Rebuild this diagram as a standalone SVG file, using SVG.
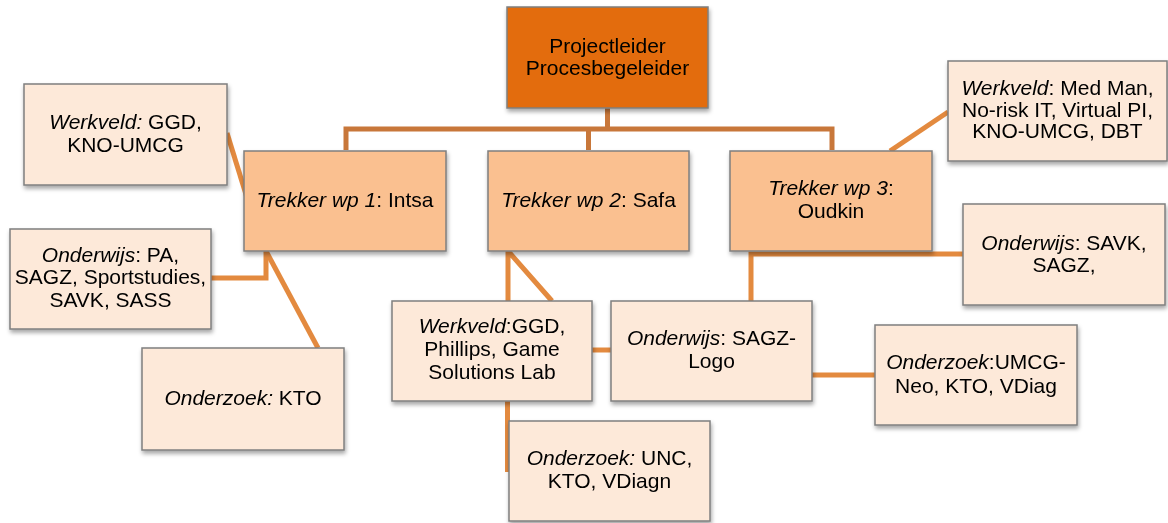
<svg xmlns="http://www.w3.org/2000/svg" width="1168" height="523" viewBox="0 0 1168 523">
<style>
.box{stroke:#7f7f7f;stroke-width:1.5}
.top{fill:#e36c09}
.mid{fill:#fac090}
.sub{fill:#fde9d9}
.ln{fill:none;stroke:#e38a3f;stroke-width:5}
.ln2{fill:none;stroke:#c8773a;stroke-width:5}
text{font-family:"Liberation Sans",Arial,sans-serif;font-size:21px;fill:#000;text-anchor:middle}
.i{font-style:italic}
</style>
<defs>
<filter id="sh" x="-10%" y="-10%" width="125%" height="135%">
<feDropShadow dx="1" dy="3" stdDeviation="2" flood-color="#000" flood-opacity="0.35"/>
</filter>
</defs>
<rect width="1168" height="523" fill="#fff"/>
<g id="connectors">
<path class="ln2" d="M607.5,108 V129 M346,150 V129 H832 V150 M588.5,129 V150"/>
<path class="ln" d="M227,133 L248,201"/>
<path class="ln" d="M211,278 H266 V251"/>
<path class="ln" d="M266,251 L318,348"/>
<path class="ln" d="M508,251 V301 M508,251 L552,301"/>
<path class="ln" d="M507.5,401 V472"/>
<path class="ln" d="M592,350 H611"/>
<path class="ln" d="M751,301 V254 H963"/>
<path class="ln" d="M890,151 L948,112"/>
<path class="ln" d="M812,375 H875"/>
</g>
<g id="projectleider" filter="url(#sh)">
<rect class="box top" x="507" y="7" width="201" height="101"/>
<text x="607.5" y="53">Projectleider</text>
<text x="607.5" y="75">Procesbegeleider</text>
</g>
<g id="wp1" filter="url(#sh)">
<rect class="box mid" x="244" y="151" width="202" height="100"/>
<text x="345" y="207"><tspan class="i">Trekker wp 1</tspan>: Intsa</text>
</g>
<g id="wp2" filter="url(#sh)">
<rect class="box mid" x="488" y="151" width="201" height="100"/>
<text x="588.5" y="207"><tspan class="i">Trekker wp 2</tspan>: Safa</text>
</g>
<g id="wp3" filter="url(#sh)">
<rect class="box mid" x="730" y="151" width="202" height="100"/>
<text x="831" y="195"><tspan class="i">Trekker wp 3</tspan>:</text>
<text x="831" y="218">Oudkin</text>
</g>
<g id="werkveld1" filter="url(#sh)">
<rect class="box sub" x="24" y="84" width="203" height="101"/>
<text x="125.5" y="129"><tspan class="i">Werkveld:</tspan> GGD,</text>
<text x="125.5" y="152">KNO-UMCG</text>
</g>
<g id="onderwijs1" filter="url(#sh)">
<rect class="box sub" x="10" y="229" width="201" height="100"/>
<text x="110.5" y="262"><tspan class="i">Onderwijs</tspan>: PA,</text>
<text x="110.5" y="284">SAGZ, Sportstudies,</text>
<text x="110.5" y="307">SAVK, SASS</text>
</g>
<g id="onderzoek1" filter="url(#sh)">
<rect class="box sub" x="142" y="348" width="202" height="102"/>
<text x="243" y="405"><tspan class="i">Onderzoek:</tspan> KTO</text>
</g>
<g id="werkveld2" filter="url(#sh)">
<rect class="box sub" x="392" y="301" width="200" height="100"/>
<text x="492" y="333"><tspan class="i">Werkveld</tspan>:GGD,</text>
<text x="492" y="356">Phillips, Game</text>
<text x="492" y="379">Solutions Lab</text>
</g>
<g id="onderwijs2" filter="url(#sh)">
<rect class="box sub" x="611" y="301" width="201" height="100"/>
<text x="711.5" y="345"><tspan class="i">Onderwijs</tspan>: SAGZ-</text>
<text x="711.5" y="368">Logo</text>
</g>
<g id="onderzoek2" filter="url(#sh)">
<rect class="box sub" x="509" y="421" width="201" height="100"/>
<text x="609.5" y="465"><tspan class="i">Onderzoek:</tspan> UNC,</text>
<text x="609.5" y="488">KTO, VDiagn</text>
</g>
<g id="werkveld3" filter="url(#sh)">
<rect class="box sub" x="948" y="61" width="219" height="100"/>
<text x="1057.5" y="95"><tspan class="i">Werkveld</tspan>: Med Man,</text>
<text x="1057.5" y="117">No-risk IT, Virtual PI,</text>
<text x="1057.5" y="138">KNO-UMCG, DBT</text>
</g>
<g id="onderwijs3" filter="url(#sh)">
<rect class="box sub" x="963" y="204" width="202" height="101"/>
<text x="1064" y="250"><tspan class="i">Onderwijs</tspan>: SAVK,</text>
<text x="1064" y="272">SAGZ,</text>
</g>
<g id="onderzoek3" filter="url(#sh)">
<rect class="box sub" x="875" y="325" width="202" height="100"/>
<text x="976" y="369"><tspan class="i">Onderzoek</tspan>:UMCG-</text>
<text x="976" y="393">Neo, KTO, VDiag</text>
</g>
</svg>
